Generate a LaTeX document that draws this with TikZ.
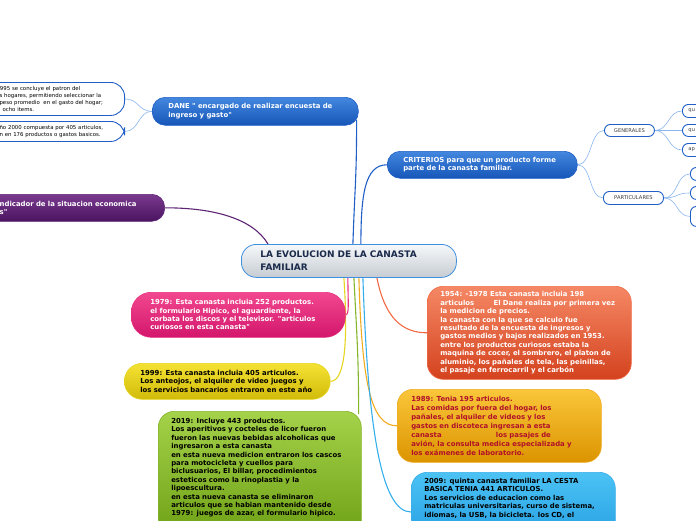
\documentclass[tikz,border=0pt]{standalone}
\usepackage{fontspec}
\setmainfont{DejaVu Sans}
\usetikzlibrary{calc,backgrounds}

\definecolor{bluetop}{HTML}{4387DF}
\definecolor{bluebot}{HTML}{1656B8}
\definecolor{blueline}{HTML}{1F5FC6}
\definecolor{twigblue}{HTML}{8AB6EE}
\definecolor{topictop}{HTML}{F6F8FA}
\definecolor{topicbot}{HTML}{C6CCD2}
\definecolor{topicline}{HTML}{3D8FE0}
\definecolor{topictext}{HTML}{1A2A4A}
\definecolor{purpletop}{HTML}{7A3A8E}
\definecolor{purplebot}{HTML}{4A1460}
\definecolor{purpleline}{HTML}{5E2474}
\definecolor{pinktop}{HTML}{F2488F}
\definecolor{pinkbot}{HTML}{D3166C}
\definecolor{pinkline}{HTML}{E8307F}
\definecolor{yellowtop}{HTML}{F4E232}
\definecolor{yellowbot}{HTML}{D2BB0A}
\definecolor{yellowline}{HTML}{E6D51F}
\definecolor{greentop}{HTML}{A4D24A}
\definecolor{greenbot}{HTML}{66990E}
\definecolor{greenline}{HTML}{84B52A}
\definecolor{orangetop}{HTML}{F58865}
\definecolor{orangebot}{HTML}{D4421E}
\definecolor{orangeline}{HTML}{F26A45}
\definecolor{goldtop}{HTML}{FAC63A}
\definecolor{goldbot}{HTML}{DC9400}
\definecolor{goldline}{HTML}{F0AC20}
\definecolor{goldtext}{HTML}{B0102A}
\definecolor{skytop}{HTML}{4CC2F4}
\definecolor{skybot}{HTML}{1A96DE}
\definecolor{skyline}{HTML}{36AEEA}

\newcommand{\qq}{\textquotedbl}

\tikzset{
  card/.style = {anchor=north west, align=left, inner ysep=0pt, line width=0.6pt,
    font=\bfseries\fontsize{6.9}{8.4}\selectfont},
  tint/.style n args = {3}{top color=#1, bottom color=#2, draw=#3},
  bluecard/.style = {card, rounded corners=13pt, tint={bluetop}{bluebot}{blueline},
    text=white},
  topiccard/.style = {card, rounded corners=15pt, tint={topictop}{topicbot}{topicline},
    line width=0.8pt, text=topictext, inner xsep=19pt, text width=177pt,
    minimum height=33pt, font=\bfseries\fontsize{9}{12.5}\selectfont},
  notecard/.style = {anchor=north east, align=left, draw=blueline, line width=0.9pt,
    fill=white, rounded corners=14pt, inner xsep=17pt, inner ysep=0pt,
    text width=108pt, font=\fontsize{5.4}{7.3}\selectfont},
  leaf/.style = {anchor=north west, draw=blueline, line width=0.9pt, fill=white,
    rounded corners=6pt, inner sep=0pt, font=\fontsize{5.2}{6}\selectfont,
    text=black!75},
  leafend/.style = {leaf, align=left, text width=28pt, inner xsep=6pt},
  link/.style = {line width=1.1pt},
  twig/.style = {draw=twigblue, line width=0.6pt}
}

\begin{document}
\begin{tikzpicture}[x=1pt,y=-1pt]
\useasboundingbox (0,0) rectangle (696,520);
\clip (0,0) rectangle (696,520);

% main topic
\node[topiccard] (topic) at (241,244) {LA EVOLUCION DE LA CANASTA\\FAMILIAR};

% upper branches
\node[bluecard, inner xsep=16pt, text width=174pt, minimum height=28pt] (dane)
  at (152,97) {DANE \qq\ encargado de realizar encuesta de\\ingreso y gasto\qq};
\node[notecard, minimum height=33pt] (note1) at (125,82)
  {\hspace*{-3pt}1995 se concluye el patron del\\s hogares, permitiendo seleccionar la\\peso promedio\ \ en el gasto del hogar;\\\hspace*{3pt}ocho items.};
\node[notecard, minimum height=20pt] (note2) at (125,121)
  {ño 2000 compuesta por 405 articulos,\\n en 176 productos o gastos basicos.};

\node[card, rounded corners=13pt, tint={purpletop}{purplebot}{purpleline}, text=white,
  anchor=north east, inner xsep=20pt, text width=145pt, minimum height=27pt]
  (indicator) at (165,194) {ndicador de la situacion economica\\s\qq};

\node[bluecard, inner xsep=16pt, text width=158pt, minimum height=27pt] (criteria)
  at (387,151) {CRITERIOS para que un producto forme\\parte de la canasta familiar.};

% criteria leaves
\node[leaf, minimum width=50pt, minimum height=12pt] (general) at (604,124) {GENERALES};
\node[leaf, minimum width=60pt, minimum height=13pt] (special) at (603,191) {PARTICULARES};
\foreach \n/\y/\h/\t in {g1/104/13/qu, g2/124/12/qu, g3/143/13/ap}{
  \node[leafend, minimum height=\h pt] (\n) at (682,\y) {\t};
}
\foreach \n/\y/\h in {p1/167/13, p2/186/13, p3/206/20}{
  \node[leafend, minimum height=\h pt] (\n) at (690,\y) {};
}

% years
\node[card, rounded corners=20pt, tint={pinktop}{pinkbot}{pinkline}, text=white,
  inner xsep=19pt, text width=176pt, minimum height=45pt] (c1979) at (131,292)
  {1979: Esta canasta incluia 252 productos.\\el formulario Hipico, el aguardiente, la\\corbata los discos y el televisor. \qq articulos\\curiosos en esta canasta\qq};

\node[card, rounded corners=18pt, tint={yellowtop}{yellowbot}{yellowline}, text=black,
  inner xsep=16pt, text width=174pt, minimum height=36pt] (c1999) at (124,363)
  {1999: Esta canasta incluia 405 articulos.\\Los anteojos, el alquiler de video juegos y\\los servicios bancarios entraron en este año};

\node[card, rounded corners=16pt, tint={greentop}{greenbot}{greenline}, text=black,
  inner xsep=13pt, inner ysep=7pt, text width=177pt, text depth=125pt] (c2019) at (158,411)
  {2019: Incluye 443 productos.\\Los aperitivos y cocteles de licor fueron\\fueron las nuevas bebidas alcoholicas que\\ingresaron a esta canasta\\en esta nueva medicion entraron los cascos\\para motocicleta y cuellos para\\biclusuarios, El billar, procedimientos\\esteticos como la rinoplastia y la\\lipoescultura.\\en esta nueva canasta se eliminaron\\articulos que se habian mantenido desde\\1979: juegos de azar, el formulario hipico.};

\node[card, rounded corners=16pt, tint={orangetop}{orangebot}{orangeline}, text=white,
  inner xsep=13pt, text width=178pt, minimum height=93pt] (c1954) at (427,286)
  {1954: -1978 Esta canasta incluia 198\\articulos\hspace{17pt} El Dane realiza por primera vez\\la medicion de precios.\\la canasta con la que se calculo fue\\resultado de la encuesta de ingresos y\\gastos medios y bajos realizados en 1953.\\entre los productos curiosos estaba la\\maquina de cocer, el sombrero, el platon de\\aluminio, los pañales de tela, las peinillas,\\el pasaje en ferrocarril y el carbón};

\node[card, rounded corners=16pt, tint={goldtop}{goldbot}{goldline}, text=goldtext,
  inner xsep=14pt, text width=176pt, minimum height=73pt,
  font=\bfseries\fontsize{6.9}{8.9}\selectfont] (c1989) at (397,389)
  {1989: Tenia 195 articulos.\\Las comidas por fuera del hogar, los\\pañales, el alquiler de videos y los\\gastos en discoteca ingresan a esta\\canasta\hspace{52pt} los pasajes de\\avión, la consulta medica especializada y\\los exámenes de laboratorio.};

\node[card, rounded corners=16pt, tint={skytop}{skybot}{skyline}, text=black,
  inner xsep=13pt, inner ysep=6pt, text width=178pt, text depth=70pt] (c2009) at (411,472)
  {2009: quinta canasta familiar LA CESTA\\BASICA TENIA 441 ARTICULOS.\\Los servicios de educacion como las\\matriculas universitarias, curso de sistema,\\idiomas, la USB, la bicicleta. los CD, el};

\begin{pgfonlayer}{background}
% branch lines
\draw[link, purpleline] (indicator.east) .. controls +(50,0) and +(-15,-25) .. ($(topic.north west)+(27,0)$);
\draw[link, blueline] ($(dane.south east)+(-2,-6)$) .. controls +(0,60) and +(2,-60) .. ($(topic.north)+(4,0)$);
\draw[link, blueline] ($(topic.north)+(12,0)$) .. controls +(0,-50) and +(-22,0) .. (criteria.west);
\draw[link, pinkline] ($(topic.south)+(-1,0)$) .. controls +(0,25) and +(4,0) .. (c1979.east);
\draw[link, yellowline] ($(topic.south)+(-5,0)$) .. controls +(4,60) and +(15,0) .. (c1999.east);
\draw[link, greenline] ($(topic.south)+(5,0)$) .. controls +(3,60) and +(0,-60) .. ($(c2019.north east)+(-3,3)$);
\draw[link, goldline] ($(topic.south)+(10,0)$) .. controls +(3,110) and +(-25,0) .. (c1989.west);
\draw[link, skyline] ($(topic.south)+(14,0)$) .. controls +(5,150) and +(-30,0) .. ($(c2009.north west)+(0,40)$);
\draw[link, orangeline] ($(topic.south)+(28,0)$) .. controls +(8,40) and +(-25,0) .. (c1954.west);

% twigs
\foreach \n in {note1,note2}
  \draw[twig] (dane.west) .. controls +(-14,0) and +(14,0) .. (\n.east);
\foreach \n in {general,special}
  \draw[twig] (criteria.east) .. controls +(14,0) and +(-14,0) .. (\n.west);
\foreach \n in {g1,g2,g3}
  \draw[twig] (general.east) .. controls +(14,0) and +(-14,0) .. (\n.west);
\foreach \n in {p1,p2,p3}
  \draw[twig] (special.east) .. controls +(14,0) and +(-14,0) .. (\n.west);
\end{pgfonlayer}
\end{tikzpicture}
\end{document}
